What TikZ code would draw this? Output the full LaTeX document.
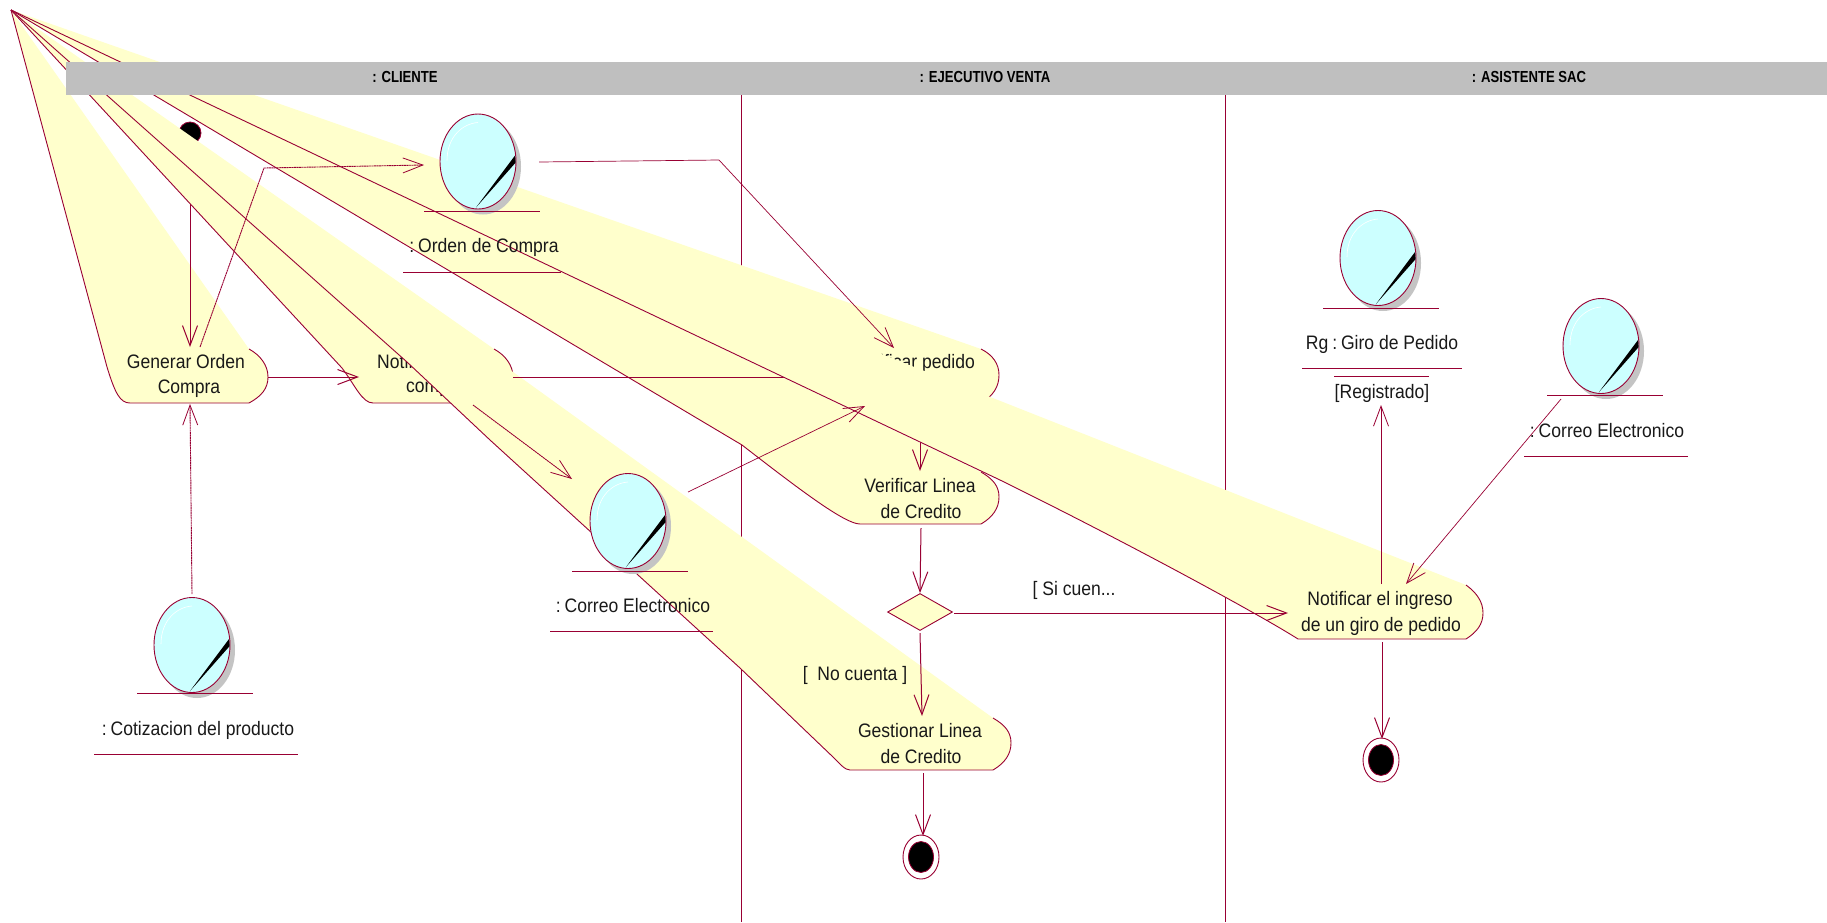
\documentclass[tikz,border=0pt]{standalone}
\usepackage{fontspec}
\setmainfont[FakeStretch=0.9]{Liberation Sans}
\newfontfamily\hdfont[FakeStretch=0.82]{Liberation Sans}
\usetikzlibrary{arrows.meta,shapes.geometric}
\definecolor{rose}{HTML}{990033}
\definecolor{bandy}{HTML}{FFFFCC}
\definecolor{objc}{HTML}{CCFFFF}
\definecolor{hdr}{HTML}{BFBFBF}
\definecolor{shad}{HTML}{C4C4C4}
\tikzset{
  x=1pt,y=-1pt,
  bandline/.style={draw=rose,line width=0.9pt,line join=round},
  lane/.style={draw=rose,line width=0.7pt},
  flow/.style={draw=rose,line width=1pt,-{Straight Barb[length=20pt,width=15pt,line width=1pt]}},
  thinflow/.style={draw=rose,line width=0.7pt,-{Straight Barb[length=20pt,width=15pt,line width=0.8pt]}},
  finedash/.style={line width=0.9pt,dash pattern=on 2pt off 0.5pt},
  rule/.style={draw=rose,line width=0.9pt},
  lbl/.style={font=\fontsize{19.5}{22}\selectfont,inner sep=0pt,text=black!90,align=center},
  hd/.style={font=\hdfont\bfseries\fontsize{16}{18}\selectfont,inner sep=0pt,text=black},
}
\newcommand\band[1]{\fill[bandy] #1 -- cycle; \draw[bandline] #1;}
\newcommand\cs{:\hspace{0.2em}}
\newcommand\objell[3]{%
  \begin{scope}[shift={(#2,#3)}]
    \fill[shad] (5,5) ellipse [x radius=38,y radius=48];
    \node[ellipse,draw=rose,fill=objc,line width=0.9pt,minimum width=76pt,minimum height=95pt,inner sep=0pt] (#1) at (0,0) {};
    \fill[black] (-2,46) -- (37,-6) -- (37.7,1) -- cycle;
    \draw[white,line width=0.6pt] (-31,-1) .. controls (-31,-25) and (-15,-38) .. (0,-39);
  \end{scope}}
\newcommand\finalst[3]{%
  \node[ellipse,draw=rose,fill=white,line width=0.9pt,minimum width=36pt,minimum height=44pt,inner sep=0pt] (#1) at (#2,#3) {};
  \node[ellipse,draw=rose,fill=black,line width=0.8pt,minimum width=25pt,minimum height=31pt,inner sep=0pt] (#1in) at (#2,#3) {};}
\begin{document}
\begin{tikzpicture}
\useasboundingbox (0,0) rectangle (1827,922);
\fill[white] (0,0) rectangle (1827,922);
\coordinate (apex) at (11,10);
% lanes
\coordinate (l1a) at (741,95); \coordinate (l1b) at (741,922);
\coordinate (l2a) at (1225,95); \coordinate (l2b) at (1225,922);
\draw[lane] (l1a) -- (l1b);
\draw[lane] (l2a) -- (l2b);
% Generar
\band{(apex) -- (107,367) .. controls (115,393) and (120,403) .. (130,403) -- (249,403) .. controls (262,396) and (268,388) .. (268,377) .. controls (268,365) and (260,355) .. (249,349)}
\node[lbl] (tgen1) at (186,362) {Generar Orden};
\node[lbl] (tgen2) at (189,389) {Compra};
% initial
\node[circle,draw=rose,fill=black,line width=0.8pt,minimum size=22pt,inner sep=0pt] (init) at (190,133) {};
\coordinate (genTop) at (190,347);
\draw[flow] (init) -- (genTop);
% Notificar compra
\band{(apex) -- (342,368) .. controls (355,385) and (362,403) .. (373,403) -- (494,403) .. controls (507,396) and (513,388) .. (513,377) .. controls (513,365) and (505,355) .. (494,349)}
\node[lbl,anchor=west] (tnot1) at (377,362) {Notificar};
\node[lbl,anchor=west] (tnot2) at (406,389) {compra};
\coordinate (genR) at (268,377); \coordinate (notL) at (359,377);
\draw[flow] (genR) -- (notL);
% Gestionar
\band{(apex) -- (407,362) -- (490,440) -- (740,668) -- (833,757) .. controls (840,764) and (845,770) .. (850,770) -- (993,770) .. controls (1005,763) and (1011,754) .. (1011,743) .. controls (1011,732) and (1005,725) .. (993,718)}
\node[lbl] (tges1) at (920,731) {Gestionar Linea};
\node[lbl] (tges2) at (921,757) {de Credito};
% Verificar pedido
\band{(apex) -- (840,390) .. controls (850,398) and (855,403) .. (860,403) -- (981,403) .. controls (993,396) and (999,387) .. (999,375) .. controls (999,364) and (993,355) .. (981,349)}
\node[lbl,anchor=east] (tped) at (975,363) {Verificar pedido};
% Verificar Linea
\band{(apex) -- (742,445) .. controls (800,490) and (845,524) .. (860,524) -- (981,524) .. controls (993,517) and (999,508) .. (999,497) .. controls (999,486) and (993,479) .. (981,472)}
\node[lbl] (tvl1) at (920,486) {Verificar Linea};
\node[lbl] (tvl2) at (921,512) {de Credito};
\coordinate (notR) at (513,377); \coordinate (pedL) at (860,377);
\draw[draw=rose,line width=1pt] (notR) -- (pedL);
\coordinate (pedB) at (920,403); \coordinate (vlT) at (920,471);
\draw[flow] (pedB) -- (vlT);
% Notificar ingreso
\band{(apex) -- (1000,480) .. controls (1130,544) and (1262,616) .. (1298,639) -- (1466,639) .. controls (1477,632) and (1483,624) .. (1483,613) .. controls (1483,602) and (1477,593) .. (1466,585)}
\node[lbl] (ting1) at (1380,600) {Notificar el ingreso};
\node[lbl] (ting2) at (1381,626) {de un giro de pedido};
% header
\fill[hdr] (66,62) rectangle (1827,95);
\node[hd] (hc) at (405,77) {: CLIENTE};
\node[hd] (he) at (985,77) {: EJECUTIVO VENTA};
\node[hd] (ha) at (1529,77) {: ASISTENTE SAC};
% objects
\objell{oOrden}{478}{161.5}
\coordinate (a1) at (424,211); \coordinate (a2) at (540,211); \draw[rule] (a1) -- (a2);
\node[lbl] (tOrden) at (484,247) {\cs Orden de Compra};
\coordinate (a3) at (403,272); \coordinate (a4) at (561,272); \draw[rule] (a3) -- (a4);
\objell{oCorreoA}{628}{521}
\coordinate (b1) at (572,571); \coordinate (b2) at (688,571); \draw[rule] (b1) -- (b2);
\node[lbl] (tCorreoA) at (633,606) {\cs Correo Electronico};
\coordinate (b3) at (550,631); \coordinate (b4) at (713,631); \draw[rule] (b3) -- (b4);
\objell{oCot}{192}{645}
\coordinate (c1) at (137,693); \coordinate (c2) at (253,693); \draw[rule] (c1) -- (c2);
\node[lbl] (tCot) at (198,730) {\cs Cotizacion del producto};
\coordinate (c3) at (94,754); \coordinate (c4) at (298,754); \draw[rule] (c3) -- (c4);
\objell{oGiro}{1378}{258}
\coordinate (d1) at (1323,308); \coordinate (d2) at (1439,308); \draw[rule] (d1) -- (d2);
\node[lbl] (tGiro) at (1382,344) {Rg\hspace{0.2em}\cs Giro de Pedido};
\coordinate (d3) at (1302,368); \coordinate (d4) at (1462,368); \draw[rule] (d3) -- (d4);
\coordinate (d5) at (1334,376); \coordinate (d6) at (1429,376); \draw[rule] (d5) -- (d6);
\node[lbl] (tReg) at (1382,393) {[Registrado]};
\objell{oCorreoB}{1601}{346}
\coordinate (e1) at (1547,395); \coordinate (e2) at (1663,395); \draw[rule] (e1) -- (e2);
\node[lbl] (tCorreoB) at (1607,431) {\cs Correo Electronico};
\coordinate (e3) at (1524,456); \coordinate (e4) at (1688,456); \draw[rule] (e3) -- (e4);
% decision
\node[diamond,draw=rose,fill=bandy,line width=0.9pt,minimum width=65pt,minimum height=37pt,inner sep=0pt,aspect=1.76] (dec) at (920,612) {};
% finals
\finalst{finA}{921}{857}
\finalst{finB}{1381}{760}
% connectors on top
\coordinate (p1) at (200,347); \coordinate (p2) at (264,168); \coordinate (p3) at (424,165);
\draw[thinflow,finedash] (p1) -- (p2) -- (p3);
\coordinate (q1) at (539,162); \coordinate (q2) at (719,160); \coordinate (q3) at (894,348);
\draw[thinflow] (q1) -- (q2) -- (q3);
\coordinate (r1) at (473,405); \coordinate (r2) at (572,479);
\draw[thinflow,finedash] (r1) -- (r2);
\coordinate (s1) at (688,492); \coordinate (s2) at (865,406);
\draw[thinflow] (s1) -- (s2);
\coordinate (t1) at (921,528); \coordinate (t2) at (920,593);
\draw[flow] (t1) -- (t2);
\coordinate (u1) at (954,613); \coordinate (u2) at (1288,613);
\draw[flow] (u1) -- (u2);
\coordinate (v1) at (920,633); \coordinate (v2) at (922,716);
\draw[flow] (v1) -- (v2);
\coordinate (w1) at (923,773); \coordinate (w2) at (923,836);
\draw[flow] (w1) -- (w2);
\coordinate (x1) at (1381,584); \coordinate (x2) at (1381,405);
\draw[thinflow] (x1) -- (x2);
\coordinate (y1) at (1561,399); \coordinate (y2) at (1406,584);
\draw[thinflow] (y1) -- (y2);
\coordinate (z1) at (1382,642); \coordinate (z2) at (1382,739);
\draw[flow] (z1) -- (z2);
\coordinate (cc1) at (192,594); \coordinate (cc2) at (190,404);
\draw[thinflow,finedash] (cc1) -- (cc2);
\node[lbl] (tsi) at (1074,590) {[ Si cuen...};
\node[lbl] (tno) at (855,675) {[~~No cuenta ]};
\end{tikzpicture}
\end{document}
